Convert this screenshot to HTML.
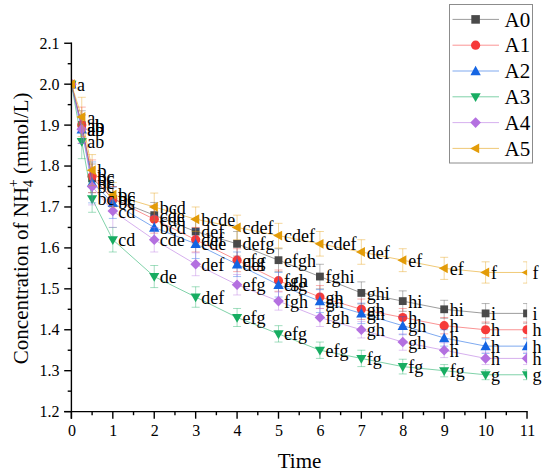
<!DOCTYPE html>
<html><head><meta charset="utf-8"><style>
html,body{margin:0;padding:0;background:#fff;width:550px;height:475px;overflow:hidden;}
svg{display:block;}
text{font-family:"Liberation Serif",serif;}
</style></head><body>
<svg width="550" height="475" viewBox="0 0 550 475" font-family="Liberation Serif, serif">
<defs><clipPath id="pc"><rect x="71.4" y="0" width="455.7" height="412"/></clipPath></defs>
<g clip-path="url(#pc)">
<polyline points="71.40,84.18 81.76,125.11 92.11,178.32 112.82,198.78 154.24,215.16 195.66,231.53 237.08,243.81 278.50,260.18 319.92,276.55 361.34,292.92 402.76,301.11 444.18,309.30 485.60,313.39 527.02,313.39" fill="none" stroke="#4A4A4A" stroke-opacity="0.55" stroke-width="1"/>
<rect x="67.50" y="80.28" width="7.80" height="7.80" fill="#4A4A4A"/>
<rect x="77.86" y="121.21" width="7.80" height="7.80" fill="#4A4A4A"/>
<rect x="88.21" y="174.42" width="7.80" height="7.80" fill="#4A4A4A"/>
<rect x="108.92" y="194.88" width="7.80" height="7.80" fill="#4A4A4A"/>
<rect x="150.34" y="211.26" width="7.80" height="7.80" fill="#4A4A4A"/>
<rect x="191.76" y="227.63" width="7.80" height="7.80" fill="#4A4A4A"/>
<rect x="233.18" y="239.91" width="7.80" height="7.80" fill="#4A4A4A"/>
<rect x="274.60" y="256.28" width="7.80" height="7.80" fill="#4A4A4A"/>
<rect x="316.02" y="272.65" width="7.80" height="7.80" fill="#4A4A4A"/>
<rect x="357.44" y="289.02" width="7.80" height="7.80" fill="#4A4A4A"/>
<rect x="398.86" y="297.21" width="7.80" height="7.80" fill="#4A4A4A"/>
<rect x="440.28" y="305.40" width="7.80" height="7.80" fill="#4A4A4A"/>
<rect x="481.70" y="309.49" width="7.80" height="7.80" fill="#4A4A4A"/>
<rect x="523.12" y="309.49" width="7.80" height="7.80" fill="#4A4A4A"/>
<g stroke="#4A4A4A" stroke-opacity="0.4" stroke-width="1" fill="none">
<path d="M71.40,82.13V86.23M67.40,82.13H75.40M67.40,86.23H75.40"/>
<path d="M81.76,110.78V139.44M77.76,110.78H85.76M77.76,139.44H85.76"/>
<path d="M92.11,163.99V192.64M88.11,163.99H96.11M88.11,192.64H96.11"/>
<path d="M112.82,186.51V211.06M108.82,186.51H116.82M108.82,211.06H116.82"/>
<path d="M154.24,202.47V227.84M150.24,202.47H158.24M150.24,227.84H158.24"/>
<path d="M195.66,219.25V243.81M191.66,219.25H199.66M191.66,243.81H199.66"/>
<path d="M237.08,231.53V256.09M233.08,231.53H241.08M233.08,256.09H241.08"/>
<path d="M278.50,248.72V271.64M274.50,248.72H282.50M274.50,271.64H282.50"/>
<path d="M319.92,264.27V288.83M315.92,264.27H323.92M315.92,288.83H323.92"/>
<path d="M361.34,281.87V303.97M357.34,281.87H365.34M357.34,303.97H365.34"/>
<path d="M402.76,290.88V311.34M398.76,290.88H406.76M398.76,311.34H406.76"/>
<path d="M444.18,300.29V318.30M440.18,300.29H448.18M440.18,318.30H448.18"/>
<path d="M485.60,303.56V323.21M481.60,303.56H489.60M481.60,323.21H489.60"/>
<path d="M527.02,303.56V323.21M523.02,303.56H531.02M523.02,323.21H531.02"/>
</g>
<polyline points="71.40,84.18 81.76,125.11 92.11,176.27 112.82,198.78 154.24,219.25 195.66,239.71 237.08,260.18 278.50,280.64 319.92,297.02 361.34,309.30 402.76,317.48 444.18,325.67 485.60,329.76 527.02,329.76" fill="none" stroke="#F63A3A" stroke-opacity="0.55" stroke-width="1"/>
<circle cx="71.40" cy="84.18" r="4.60" fill="#F63A3A"/>
<circle cx="81.76" cy="125.11" r="4.60" fill="#F63A3A"/>
<circle cx="92.11" cy="176.27" r="4.60" fill="#F63A3A"/>
<circle cx="112.82" cy="198.78" r="4.60" fill="#F63A3A"/>
<circle cx="154.24" cy="219.25" r="4.60" fill="#F63A3A"/>
<circle cx="195.66" cy="239.71" r="4.60" fill="#F63A3A"/>
<circle cx="237.08" cy="260.18" r="4.60" fill="#F63A3A"/>
<circle cx="278.50" cy="280.64" r="4.60" fill="#F63A3A"/>
<circle cx="319.92" cy="297.02" r="4.60" fill="#F63A3A"/>
<circle cx="361.34" cy="309.30" r="4.60" fill="#F63A3A"/>
<circle cx="402.76" cy="317.48" r="4.60" fill="#F63A3A"/>
<circle cx="444.18" cy="325.67" r="4.60" fill="#F63A3A"/>
<circle cx="485.60" cy="329.76" r="4.60" fill="#F63A3A"/>
<circle cx="527.02" cy="329.76" r="4.60" fill="#F63A3A"/>
<g stroke="#F63A3A" stroke-opacity="0.4" stroke-width="1" fill="none">
<path d="M71.40,82.13V86.23M67.40,82.13H75.40M67.40,86.23H75.40"/>
<path d="M81.76,107.10V143.12M77.76,107.10H85.76M77.76,143.12H85.76"/>
<path d="M92.11,159.90V192.64M88.11,159.90H96.11M88.11,192.64H96.11"/>
<path d="M112.82,186.51V211.06M108.82,186.51H116.82M108.82,211.06H116.82"/>
<path d="M154.24,205.33V233.17M150.24,205.33H158.24M150.24,233.17H158.24"/>
<path d="M195.66,227.43V251.99M191.66,227.43H199.66M191.66,251.99H199.66"/>
<path d="M237.08,248.72V271.64M233.08,248.72H241.08M233.08,271.64H241.08"/>
<path d="M278.50,270.00V291.29M274.50,270.00H282.50M274.50,291.29H282.50"/>
<path d="M319.92,285.56V308.48M315.92,285.56H323.92M315.92,308.48H323.92"/>
<path d="M361.34,299.06V319.53M357.34,299.06H365.34M357.34,319.53H365.34"/>
<path d="M402.76,308.48V326.49M398.76,308.48H406.76M398.76,326.49H406.76"/>
<path d="M444.18,317.48V333.85M440.18,317.48H448.18M440.18,333.85H448.18"/>
<path d="M485.60,321.98V337.54M481.60,321.98H489.60M481.60,337.54H489.60"/>
<path d="M527.02,321.98V337.54M523.02,321.98H531.02M523.02,337.54H531.02"/>
</g>
<polyline points="71.40,84.18 81.76,129.20 92.11,182.41 112.82,202.88 154.24,227.44 195.66,243.81 237.08,264.27 278.50,284.74 319.92,301.11 361.34,313.39 402.76,325.67 444.18,337.95 485.60,346.13 527.02,346.13" fill="none" stroke="#1565E3" stroke-opacity="0.55" stroke-width="1"/>
<path d="M71.40,79.01 L76.60,88.41 L66.20,88.41Z" fill="#1565E3"/>
<path d="M81.76,124.03 L86.96,133.43 L76.56,133.43Z" fill="#1565E3"/>
<path d="M92.11,177.24 L97.31,186.64 L86.91,186.64Z" fill="#1565E3"/>
<path d="M112.82,197.71 L118.02,207.11 L107.62,207.11Z" fill="#1565E3"/>
<path d="M154.24,222.27 L159.44,231.67 L149.04,231.67Z" fill="#1565E3"/>
<path d="M195.66,238.64 L200.86,248.04 L190.46,248.04Z" fill="#1565E3"/>
<path d="M237.08,259.10 L242.28,268.50 L231.88,268.50Z" fill="#1565E3"/>
<path d="M278.50,279.57 L283.70,288.97 L273.30,288.97Z" fill="#1565E3"/>
<path d="M319.92,295.94 L325.12,305.34 L314.72,305.34Z" fill="#1565E3"/>
<path d="M361.34,308.22 L366.54,317.62 L356.14,317.62Z" fill="#1565E3"/>
<path d="M402.76,320.50 L407.96,329.90 L397.56,329.90Z" fill="#1565E3"/>
<path d="M444.18,332.78 L449.38,342.18 L438.98,342.18Z" fill="#1565E3"/>
<path d="M485.60,340.96 L490.80,350.36 L480.40,350.36Z" fill="#1565E3"/>
<path d="M527.02,340.96 L532.22,350.36 L521.82,350.36Z" fill="#1565E3"/>
<g stroke="#1565E3" stroke-opacity="0.4" stroke-width="1" fill="none">
<path d="M71.40,82.13V86.23M67.40,82.13H75.40M67.40,86.23H75.40"/>
<path d="M81.76,114.88V143.53M77.76,114.88H85.76M77.76,143.53H85.76"/>
<path d="M92.11,161.95V202.88M88.11,161.95H96.11M88.11,202.88H96.11"/>
<path d="M112.82,187.32V218.43M108.82,187.32H116.82M108.82,218.43H116.82"/>
<path d="M154.24,215.16V239.71M150.24,215.16H158.24M150.24,239.71H158.24"/>
<path d="M195.66,229.07V258.54M191.66,229.07H199.66M191.66,258.54H199.66"/>
<path d="M237.08,251.99V276.55M233.08,251.99H241.08M233.08,276.55H241.08"/>
<path d="M278.50,272.46V297.02M274.50,272.46H282.50M274.50,297.02H282.50"/>
<path d="M319.92,289.65V312.57M315.92,289.65H323.92M315.92,312.57H323.92"/>
<path d="M361.34,303.16V323.62M357.34,303.16H365.34M357.34,323.62H365.34"/>
<path d="M402.76,316.66V334.67M398.76,316.66H406.76M398.76,334.67H406.76"/>
<path d="M444.18,329.76V346.13M440.18,329.76H448.18M440.18,346.13H448.18"/>
<path d="M485.60,338.76V353.50M481.60,338.76H489.60M481.60,353.50H489.60"/>
<path d="M527.02,338.76V353.50M523.02,338.76H531.02M523.02,353.50H531.02"/>
</g>
<polyline points="71.40,84.18 81.76,141.48 92.11,198.78 112.82,239.71 154.24,276.55 195.66,297.02 237.08,317.48 278.50,333.85 319.92,350.23 361.34,358.41 402.76,366.60 444.18,370.69 485.60,374.78 527.02,374.78" fill="none" stroke="#18AD62" stroke-opacity="0.55" stroke-width="1"/>
<path d="M71.40,89.46 L76.50,80.66 L66.30,80.66Z" fill="#18AD62"/>
<path d="M81.76,146.76 L86.86,137.96 L76.66,137.96Z" fill="#18AD62"/>
<path d="M92.11,204.06 L97.21,195.26 L87.01,195.26Z" fill="#18AD62"/>
<path d="M112.82,244.99 L117.92,236.19 L107.72,236.19Z" fill="#18AD62"/>
<path d="M154.24,281.83 L159.34,273.03 L149.14,273.03Z" fill="#18AD62"/>
<path d="M195.66,302.30 L200.76,293.50 L190.56,293.50Z" fill="#18AD62"/>
<path d="M237.08,322.76 L242.18,313.96 L231.98,313.96Z" fill="#18AD62"/>
<path d="M278.50,339.13 L283.60,330.33 L273.40,330.33Z" fill="#18AD62"/>
<path d="M319.92,355.50 L325.02,346.71 L314.82,346.71Z" fill="#18AD62"/>
<path d="M361.34,363.69 L366.44,354.89 L356.24,354.89Z" fill="#18AD62"/>
<path d="M402.76,371.88 L407.86,363.08 L397.66,363.08Z" fill="#18AD62"/>
<path d="M444.18,375.97 L449.28,367.17 L439.08,367.17Z" fill="#18AD62"/>
<path d="M485.60,380.06 L490.70,371.26 L480.50,371.26Z" fill="#18AD62"/>
<path d="M527.02,380.06 L532.12,371.26 L521.92,371.26Z" fill="#18AD62"/>
<g stroke="#18AD62" stroke-opacity="0.4" stroke-width="1" fill="none">
<path d="M71.40,82.13V86.23M67.40,82.13H75.40M67.40,86.23H75.40"/>
<path d="M81.76,124.29V158.67M77.76,124.29H85.76M77.76,158.67H85.76"/>
<path d="M92.11,185.28V212.29M88.11,185.28H96.11M88.11,212.29H96.11"/>
<path d="M112.82,227.43V251.99M108.82,227.43H116.82M108.82,251.99H116.82"/>
<path d="M154.24,265.50V287.60M150.24,265.50H158.24M150.24,287.60H158.24"/>
<path d="M195.66,286.78V307.25M191.66,286.78H199.66M191.66,307.25H199.66"/>
<path d="M237.08,308.48V326.49M233.08,308.48H241.08M233.08,326.49H241.08"/>
<path d="M278.50,325.67V342.04M274.50,325.67H282.50M274.50,342.04H282.50"/>
<path d="M319.92,342.04V358.41M315.92,342.04H323.92M315.92,358.41H323.92"/>
<path d="M361.34,350.23V366.60M357.34,350.23H365.34M357.34,366.60H365.34"/>
<path d="M402.76,359.23V373.96M398.76,359.23H406.76M398.76,373.96H406.76"/>
<path d="M444.18,364.55V376.83M440.18,364.55H448.18M440.18,376.83H448.18"/>
<path d="M485.60,369.87V379.69M481.60,369.87H489.60M481.60,379.69H489.60"/>
<path d="M527.02,369.87V379.69M523.02,369.87H531.02M523.02,379.69H531.02"/>
</g>
<polyline points="71.40,84.18 81.76,129.20 92.11,186.51 112.82,211.06 154.24,239.71 195.66,264.27 237.08,284.74 278.50,301.11 319.92,317.48 361.34,329.76 402.76,342.04 444.18,350.23 485.60,358.41 527.02,358.41" fill="none" stroke="#B470E0" stroke-opacity="0.55" stroke-width="1"/>
<path d="M71.40,78.88 L76.70,84.18 L71.40,89.48 L66.10,84.18Z" fill="#B470E0"/>
<path d="M81.76,123.90 L87.06,129.20 L81.76,134.50 L76.46,129.20Z" fill="#B470E0"/>
<path d="M92.11,181.21 L97.41,186.51 L92.11,191.81 L86.81,186.51Z" fill="#B470E0"/>
<path d="M112.82,205.76 L118.12,211.06 L112.82,216.36 L107.52,211.06Z" fill="#B470E0"/>
<path d="M154.24,234.41 L159.54,239.71 L154.24,245.01 L148.94,239.71Z" fill="#B470E0"/>
<path d="M195.66,258.97 L200.96,264.27 L195.66,269.57 L190.36,264.27Z" fill="#B470E0"/>
<path d="M237.08,279.44 L242.38,284.74 L237.08,290.04 L231.78,284.74Z" fill="#B470E0"/>
<path d="M278.50,295.81 L283.80,301.11 L278.50,306.41 L273.20,301.11Z" fill="#B470E0"/>
<path d="M319.92,312.18 L325.22,317.48 L319.92,322.78 L314.62,317.48Z" fill="#B470E0"/>
<path d="M361.34,324.46 L366.64,329.76 L361.34,335.06 L356.04,329.76Z" fill="#B470E0"/>
<path d="M402.76,336.74 L408.06,342.04 L402.76,347.34 L397.46,342.04Z" fill="#B470E0"/>
<path d="M444.18,344.93 L449.48,350.23 L444.18,355.53 L438.88,350.23Z" fill="#B470E0"/>
<path d="M485.60,353.11 L490.90,358.41 L485.60,363.71 L480.30,358.41Z" fill="#B470E0"/>
<path d="M527.02,353.11 L532.32,358.41 L527.02,363.71 L521.72,358.41Z" fill="#B470E0"/>
<g stroke="#B470E0" stroke-opacity="0.4" stroke-width="1" fill="none">
<path d="M71.40,82.13V86.23M67.40,82.13H75.40M67.40,86.23H75.40"/>
<path d="M81.76,114.88V143.53M77.76,114.88H85.76M77.76,143.53H85.76"/>
<path d="M92.11,168.09V204.92M88.11,168.09H96.11M88.11,204.92H96.11"/>
<path d="M112.82,194.69V227.44M108.82,194.69H116.82M108.82,227.44H116.82"/>
<path d="M154.24,227.43V251.99M150.24,227.43H158.24M150.24,251.99H158.24"/>
<path d="M195.66,252.81V275.73M191.66,252.81H199.66M191.66,275.73H199.66"/>
<path d="M237.08,274.50V294.97M233.08,274.50H241.08M233.08,294.97H241.08"/>
<path d="M278.50,292.10V310.11M274.50,292.10H282.50M274.50,310.11H282.50"/>
<path d="M319.92,308.48V326.49M315.92,308.48H323.92M315.92,326.49H323.92"/>
<path d="M361.34,321.57V337.95M357.34,321.57H365.34M357.34,337.95H365.34"/>
<path d="M402.76,333.85V350.23M398.76,333.85H406.76M398.76,350.23H406.76"/>
<path d="M444.18,342.86V357.59M440.18,342.86H448.18M440.18,357.59H448.18"/>
<path d="M485.60,352.27V364.55M481.60,352.27H489.60M481.60,364.55H489.60"/>
<path d="M527.02,352.27V364.55M523.02,352.27H531.02M523.02,364.55H531.02"/>
</g>
<polyline points="71.40,84.18 81.76,116.92 92.11,170.13 112.82,194.69 154.24,206.97 195.66,219.25 237.08,227.44 278.50,235.62 319.92,243.81 361.34,251.99 402.76,260.18 444.18,268.37 485.60,272.46 527.02,272.46" fill="none" stroke="#E39C08" stroke-opacity="0.55" stroke-width="1"/>
<path d="M66.00,84.18 L75.00,79.28 L75.00,89.08Z" fill="#E39C08"/>
<path d="M76.36,116.92 L85.36,112.02 L85.36,121.82Z" fill="#E39C08"/>
<path d="M86.71,170.13 L95.71,165.23 L95.71,175.03Z" fill="#E39C08"/>
<path d="M107.42,194.69 L116.42,189.79 L116.42,199.59Z" fill="#E39C08"/>
<path d="M148.84,206.97 L157.84,202.07 L157.84,211.87Z" fill="#E39C08"/>
<path d="M190.26,219.25 L199.26,214.35 L199.26,224.15Z" fill="#E39C08"/>
<path d="M231.68,227.44 L240.68,222.54 L240.68,232.34Z" fill="#E39C08"/>
<path d="M273.10,235.62 L282.10,230.72 L282.10,240.52Z" fill="#E39C08"/>
<path d="M314.52,243.81 L323.52,238.91 L323.52,248.71Z" fill="#E39C08"/>
<path d="M355.94,251.99 L364.94,247.09 L364.94,256.89Z" fill="#E39C08"/>
<path d="M397.36,260.18 L406.36,255.28 L406.36,265.08Z" fill="#E39C08"/>
<path d="M438.78,268.37 L447.78,263.47 L447.78,273.26Z" fill="#E39C08"/>
<path d="M480.20,272.46 L489.20,267.56 L489.20,277.36Z" fill="#E39C08"/>
<path d="M521.62,272.46 L530.62,267.56 L530.62,277.36Z" fill="#E39C08"/>
<g stroke="#E39C08" stroke-opacity="0.4" stroke-width="1" fill="none">
<path d="M71.40,82.13V86.23M67.40,82.13H75.40M67.40,86.23H75.40"/>
<path d="M81.76,97.28V136.57M77.76,97.28H85.76M77.76,136.57H85.76"/>
<path d="M92.11,154.58V185.69M88.11,154.58H96.11M88.11,185.69H96.11"/>
<path d="M112.82,182.41V206.97M108.82,182.41H116.82M108.82,206.97H116.82"/>
<path d="M154.24,193.05V220.89M150.24,193.05H158.24M150.24,220.89H158.24"/>
<path d="M195.66,206.97V231.53M191.66,206.97H199.66M191.66,231.53H199.66"/>
<path d="M237.08,215.16V239.71M233.08,215.16H241.08M233.08,239.71H241.08"/>
<path d="M278.50,223.34V247.90M274.50,223.34H282.50M274.50,247.90H282.50"/>
<path d="M319.92,231.53V256.09M315.92,231.53H323.92M315.92,256.09H323.92"/>
<path d="M361.34,239.71V264.27M357.34,239.71H365.34M357.34,264.27H365.34"/>
<path d="M402.76,248.72V271.64M398.76,248.72H406.76M398.76,271.64H406.76"/>
<path d="M444.18,257.31V279.42M440.18,257.31H448.18M440.18,279.42H448.18"/>
<path d="M485.60,261.82V283.10M481.60,261.82H489.60M481.60,283.10H489.60"/>
<path d="M527.02,261.82V283.10M523.02,261.82H531.02M523.02,283.10H531.02"/>
</g>
</g>
<g stroke="#000" stroke-width="1.4" fill="none">
<path d="M71.4,42.5V418.7M64.2,411.6H527.7"/>
<path d="M64.2,411.62H71.4"/>
<path d="M64.2,370.69H71.4"/>
<path d="M64.2,329.76H71.4"/>
<path d="M64.2,288.83H71.4"/>
<path d="M64.2,247.90H71.4"/>
<path d="M64.2,206.97H71.4"/>
<path d="M64.2,166.04H71.4"/>
<path d="M64.2,125.11H71.4"/>
<path d="M64.2,84.18H71.4"/>
<path d="M64.2,43.25H71.4"/>
<path d="M67.7,391.16H71.4"/>
<path d="M67.7,350.23H71.4"/>
<path d="M67.7,309.30H71.4"/>
<path d="M67.7,268.37H71.4"/>
<path d="M67.7,227.44H71.4"/>
<path d="M67.7,186.51H71.4"/>
<path d="M67.7,145.57H71.4"/>
<path d="M67.7,104.64H71.4"/>
<path d="M67.7,63.72H71.4"/>
<path d="M71.40,411.6V418.7"/>
<path d="M112.82,411.6V418.7"/>
<path d="M154.24,411.6V418.7"/>
<path d="M195.66,411.6V418.7"/>
<path d="M237.08,411.6V418.7"/>
<path d="M278.50,411.6V418.7"/>
<path d="M319.92,411.6V418.7"/>
<path d="M361.34,411.6V418.7"/>
<path d="M402.76,411.6V418.7"/>
<path d="M444.18,411.6V418.7"/>
<path d="M485.60,411.6V418.7"/>
<path d="M527.02,411.6V418.7"/>
<path d="M92.11,411.6V415.2"/>
<path d="M133.53,411.6V415.2"/>
<path d="M174.95,411.6V415.2"/>
<path d="M216.37,411.6V415.2"/>
<path d="M257.79,411.6V415.2"/>
<path d="M299.21,411.6V415.2"/>
<path d="M340.63,411.6V415.2"/>
<path d="M382.05,411.6V415.2"/>
<path d="M423.47,411.6V415.2"/>
<path d="M464.89,411.6V415.2"/>
<path d="M506.31,411.6V415.2"/>
</g>
<g font-size="16" fill="#000">
<text x="59.4" y="417.02" text-anchor="end">1.2</text>
<text x="59.4" y="376.09" text-anchor="end">1.3</text>
<text x="59.4" y="335.16" text-anchor="end">1.4</text>
<text x="59.4" y="294.23" text-anchor="end">1.5</text>
<text x="59.4" y="253.30" text-anchor="end">1.6</text>
<text x="59.4" y="212.37" text-anchor="end">1.7</text>
<text x="59.4" y="171.44" text-anchor="end">1.8</text>
<text x="59.4" y="130.51" text-anchor="end">1.9</text>
<text x="59.4" y="89.58" text-anchor="end">2.0</text>
<text x="59.4" y="48.65" text-anchor="end">2.1</text>
<text x="71.90" y="435.8" text-anchor="middle">0</text>
<text x="113.32" y="435.8" text-anchor="middle">1</text>
<text x="154.74" y="435.8" text-anchor="middle">2</text>
<text x="196.16" y="435.8" text-anchor="middle">3</text>
<text x="237.58" y="435.8" text-anchor="middle">4</text>
<text x="279.00" y="435.8" text-anchor="middle">5</text>
<text x="320.42" y="435.8" text-anchor="middle">6</text>
<text x="361.84" y="435.8" text-anchor="middle">7</text>
<text x="403.26" y="435.8" text-anchor="middle">8</text>
<text x="444.68" y="435.8" text-anchor="middle">9</text>
<text x="486.10" y="435.8" text-anchor="middle">10</text>
<text x="527.52" y="435.8" text-anchor="middle">11</text>
</g>
<text x="299.5" y="467.8" font-size="21" text-anchor="middle">Time</text>
<text transform="translate(27.6,228.3) rotate(-90)" font-size="21" text-anchor="middle">Concentration of NH<tspan font-size="14" dy="5.2">4</tspan><tspan font-size="14" dx="-7.3" dy="-14.85">+</tspan><tspan dy="9.65"> (mmol/L)</tspan></text>
<g font-size="18" fill="#000">
<text x="87.26" y="131.71">ab</text>
<text x="97.61" y="184.92">bc</text>
<text x="118.32" y="205.38">bc</text>
<text x="159.74" y="221.76">cde</text>
<text x="201.16" y="238.13">def</text>
<text x="242.58" y="250.41">defg</text>
<text x="284.00" y="266.78">efgh</text>
<text x="325.42" y="283.15">fghi</text>
<text x="366.84" y="299.52">ghi</text>
<text x="408.26" y="307.71">hi</text>
<text x="449.68" y="315.90">hi</text>
<text x="491.10" y="319.99">i</text>
<text x="532.52" y="319.99">i</text>
<text x="87.26" y="131.71">ab</text>
<text x="97.61" y="182.87">bc</text>
<text x="118.32" y="205.38">bc</text>
<text x="159.74" y="225.85">cde</text>
<text x="201.16" y="246.31">def</text>
<text x="242.58" y="266.78">efg</text>
<text x="284.00" y="287.24">fgh</text>
<text x="325.42" y="303.62">gh</text>
<text x="366.84" y="315.90">gh</text>
<text x="408.26" y="324.08">h</text>
<text x="449.68" y="332.27">h</text>
<text x="491.10" y="336.36">h</text>
<text x="532.52" y="336.36">h</text>
<text x="87.26" y="135.80">ab</text>
<text x="97.61" y="189.01">bc</text>
<text x="118.32" y="209.48">bc</text>
<text x="159.74" y="234.04">bcd</text>
<text x="201.16" y="250.41">cde</text>
<text x="242.58" y="270.87">def</text>
<text x="284.00" y="291.34">efg</text>
<text x="325.42" y="307.71">gh</text>
<text x="366.84" y="319.99">gh</text>
<text x="408.26" y="332.27">gh</text>
<text x="449.68" y="344.55">h</text>
<text x="491.10" y="352.73">h</text>
<text x="532.52" y="352.73">h</text>
<text x="87.26" y="148.08">ab</text>
<text x="97.61" y="205.38">bc</text>
<text x="118.32" y="246.31">cd</text>
<text x="159.74" y="283.15">de</text>
<text x="201.16" y="303.62">def</text>
<text x="242.58" y="324.08">efg</text>
<text x="284.00" y="340.45">efg</text>
<text x="325.42" y="356.83">efg</text>
<text x="366.84" y="365.01">fg</text>
<text x="408.26" y="373.20">fg</text>
<text x="449.68" y="377.29">fg</text>
<text x="491.10" y="381.38">g</text>
<text x="532.52" y="381.38">g</text>
<text x="87.26" y="135.80">ab</text>
<text x="97.61" y="193.11">bc</text>
<text x="118.32" y="217.66">cd</text>
<text x="159.74" y="246.31">cde</text>
<text x="201.16" y="270.87">def</text>
<text x="242.58" y="291.34">efg</text>
<text x="284.00" y="307.71">fgh</text>
<text x="325.42" y="324.08">fgh</text>
<text x="366.84" y="336.36">gh</text>
<text x="408.26" y="348.64">gh</text>
<text x="449.68" y="356.83">h</text>
<text x="491.10" y="365.01">h</text>
<text x="532.52" y="365.01">h</text>
<text x="76.90" y="90.78">a</text>
<text x="87.26" y="123.52">a</text>
<text x="97.61" y="176.73">b</text>
<text x="118.32" y="201.29">bc</text>
<text x="159.74" y="213.57">bcd</text>
<text x="201.16" y="225.85">bcde</text>
<text x="242.58" y="234.04">cdef</text>
<text x="284.00" y="242.22">cdef</text>
<text x="325.42" y="250.41">cdef</text>
<text x="366.84" y="258.59">def</text>
<text x="408.26" y="266.78">ef</text>
<text x="449.68" y="274.97">ef</text>
<text x="491.10" y="279.06">f</text>
<text x="532.52" y="279.06">f</text>
</g>
<rect x="449.5" y="4.5" width="83" height="158.5" fill="#fff" stroke="#8c8c8c" stroke-width="1"/>
<path d="M452.5,19.40H499" stroke="#4A4A4A" stroke-opacity="0.55" stroke-width="1"/>
<rect x="471.31" y="15.11" width="8.58" height="8.58" fill="#4A4A4A"/>
<text x="504.5" y="26.60" font-size="21">A0</text>
<path d="M452.5,45.20H499" stroke="#F63A3A" stroke-opacity="0.55" stroke-width="1"/>
<circle cx="475.60" cy="45.20" r="4.60" fill="#F63A3A"/>
<text x="504.5" y="52.40" font-size="21">A1</text>
<path d="M452.5,71.00H499" stroke="#1565E3" stroke-opacity="0.55" stroke-width="1"/>
<path d="M475.60,65.83 L480.80,75.23 L470.40,75.23Z" fill="#1565E3"/>
<text x="504.5" y="78.20" font-size="21">A2</text>
<path d="M452.5,96.80H499" stroke="#18AD62" stroke-opacity="0.55" stroke-width="1"/>
<path d="M475.60,102.08 L480.70,93.28 L470.50,93.28Z" fill="#18AD62"/>
<text x="504.5" y="104.00" font-size="21">A3</text>
<path d="M452.5,122.60H499" stroke="#B470E0" stroke-opacity="0.55" stroke-width="1"/>
<path d="M475.60,117.30 L480.90,122.60 L475.60,127.90 L470.30,122.60Z" fill="#B470E0"/>
<text x="504.5" y="129.80" font-size="21">A4</text>
<path d="M452.5,148.40H499" stroke="#E39C08" stroke-opacity="0.55" stroke-width="1"/>
<path d="M470.20,148.40 L479.20,143.50 L479.20,153.30Z" fill="#E39C08"/>
<text x="504.5" y="155.60" font-size="21">A5</text>
</svg>
</body></html>
